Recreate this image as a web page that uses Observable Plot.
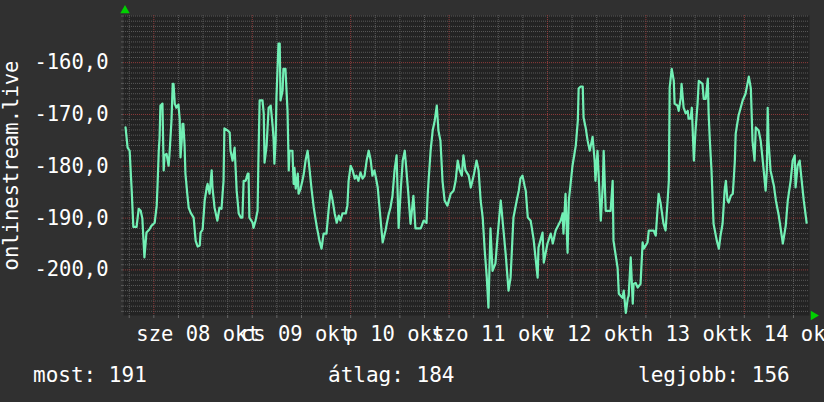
<!DOCTYPE html>
<html><head><meta charset="utf-8">
<script src="https://cdn.jsdelivr.net/npm/d3@7"></script>
<script src="https://cdn.jsdelivr.net/npm/@observablehq/plot@0.6"></script>
<style>
html,body{margin:0;padding:0;background:#303030;width:824px;height:402px;overflow:hidden;}
#chart{position:absolute;left:0;top:0;}
.leg{position:absolute;top:365px;font-family:"DejaVu Sans Mono",monospace;font-size:21px;line-height:21px;color:#fff;white-space:pre;}
</style></head><body>
<div id="chart"></div>
<div id="legend"></div>
<script>
// hours relative to 2014-10-08 00:00
const hours = [-6.9,-6.4,-5.9,-5.4,-5.0,-4.2,-3.7,-3.2,-2.8,-2.3,-1.8,-1.1,-0.6,0.2,0.7,0.9,1.2,1.4,1.6,2.1,2.4,2.6,3.1,3.6,3.8,4.3,4.6,4.8,5.1,5.5,6.0,6.3,6.5,6.8,7.0,7.2,7.5,7.7,8.2,8.5,9.0,9.7,10.2,10.7,11.2,11.4,11.9,12.4,12.9,13.1,13.6,14.1,14.3,14.8,15.5,16.0,16.5,17.0,17.2,18.0,18.5,18.7,19.2,19.7,20.2,20.7,21.2,21.6,21.9,22.4,22.9,23.1,23.3,24.1,24.3,24.8,25.3,25.5,25.8,26.5,26.8,27.0,27.5,28.0,28.5,29.0,29.2,29.4,29.7,29.9,30.4,30.7,30.9,31.4,31.6,32.1,32.6,32.9,33.1,33.8,34.1,34.3,34.6,35.1,35.3,35.8,36.5,37.0,37.5,38.0,38.5,39.0,39.7,40.4,40.9,41.4,42.1,42.6,43.1,43.6,44.1,44.6,45.1,45.5,46.0,46.8,47.2,47.5,48.0,48.5,49.0,49.4,49.9,50.4,50.9,51.4,51.9,52.4,52.9,53.3,53.8,54.3,54.6,55.1,55.8,56.5,57.2,57.7,58.2,58.7,59.2,59.7,60.2,60.7,61.2,61.6,62.1,62.6,63.3,63.8,65.1,65.8,66.5,66.8,67.0,67.5,68.0,68.5,69.0,69.4,69.9,70.4,70.9,71.6,72.4,73.1,73.6,74.1,74.6,75.1,75.5,76.0,76.8,77.3,78.0,78.7,79.2,79.7,80.2,80.7,81.2,81.6,82.1,82.6,83.3,83.8,84.6,85.1,85.8,86.5,87.0,87.7,88.5,89.0,89.4,89.9,90.4,90.7,91.2,91.9,92.6,93.6,93.8,94.8,95.1,96.0,96.8,97.3,98.0,99.2,99.7,99.9,100.4,100.9,101.2,101.6,102.1,102.9,103.4,103.6,104.1,104.6,104.8,105.3,105.8,106.3,106.8,107.0,107.5,107.7,108.2,109.0,109.5,109.7,110.2,111.4,111.9,112.1,113.1,113.4,114.3,114.6,115.1,115.6,115.8,116.3,116.8,117.0,117.5,118.0,118.7,119.2,119.5,120.4,120.7,121.9,122.4,123.1,123.6,124.3,124.8,125.3,125.6,125.8,126.3,126.8,127.0,127.7,128.0,128.5,128.7,129.2,129.7,130.2,130.4,130.9,131.2,131.7,132.1,132.6,132.9,133.8,134.1,134.6,135.1,135.3,135.6,136.0,136.5,137.3,137.8,138.2,138.7,139.2,139.5,139.9,140.2,140.7,141.2,141.4,141.7,141.9,142.6,143.6,144.3,145.1,145.6,146.0,146.5,146.8,147.5,148.0,148.5,149.2,149.5,149.7,149.9,150.4,151.2,151.7,152.4,153.4,154.1,154.6,155.3,155.8,156.3,156.5,157.0,157.5,158.0,158.5,159.2];
const values = [-172.5,-176.4,-177.0,-184.7,-191.7,-191.7,-188.2,-188.6,-190.1,-197.6,-192.8,-192.2,-191.5,-190.9,-187.6,-183.7,-177.0,-174.5,-168.3,-167.9,-180.8,-177.9,-177.6,-179.9,-177.9,-171.2,-164.1,-164.1,-167.9,-168.7,-168.1,-170.8,-178.3,-175.1,-171.8,-171.8,-176.0,-181.4,-185.7,-188.0,-189.0,-189.9,-194.4,-195.5,-195.3,-192.8,-192.2,-186.6,-184.1,-183.4,-185.3,-180.8,-184.1,-188.0,-190.5,-188.0,-188.2,-182.8,-172.7,-173.1,-173.5,-177.0,-178.9,-176.4,-184.7,-189.1,-189.9,-189.9,-182.8,-182.8,-181.4,-181.4,-189.9,-190.9,-191.9,-190.5,-188.6,-178.9,-167.3,-167.3,-169.8,-179.3,-176.0,-168.7,-168.3,-172.5,-174.7,-179.5,-175.1,-166.8,-156.3,-156.3,-167.3,-165.4,-161.2,-161.2,-169.3,-180.8,-177.0,-177.0,-183.4,-180.3,-184.3,-181.4,-185.3,-184.3,-181.8,-178.9,-177.0,-180.8,-184.7,-188.0,-191.5,-194.4,-195.9,-193.0,-193.0,-188.6,-184.7,-186.6,-189.1,-190.9,-189.5,-190.5,-189.1,-189.1,-187.6,-182.8,-179.9,-180.8,-182.4,-181.8,-182.8,-181.2,-182.4,-181.8,-178.9,-177.0,-178.9,-181.8,-180.8,-182.8,-184.1,-188.6,-194.7,-192.4,-189.5,-188.0,-185.7,-180.8,-177.9,-191.9,-184.7,-178.9,-177.0,-180.8,-185.7,-191.1,-185.7,-192.0,-192.0,-190.5,-190.9,-185.3,-182.8,-177.0,-173.1,-171.2,-168.3,-173.1,-175.1,-182.8,-186.6,-187.6,-185.3,-184.7,-182.8,-178.9,-180.8,-181.8,-177.9,-180.8,-181.8,-184.1,-181.8,-178.9,-180.8,-186.6,-189.9,-196.3,-201.5,-207.3,-192.0,-200.2,-198.8,-193.8,-186.6,-190.9,-196.9,-204.0,-201.5,-189.9,-186.6,-184.7,-182.4,-181.8,-183.7,-184.7,-189.9,-190.5,-194.0,-201.5,-195.7,-192.8,-198.6,-194.9,-193.0,-194.9,-192.4,-190.5,-189.1,-193.0,-185.3,-196.7,-186.6,-183.7,-179.9,-176.0,-171.2,-165.0,-164.6,-164.6,-170.6,-172.5,-175.1,-177.0,-175.1,-174.3,-178.9,-182.8,-177.0,-190.5,-183.4,-177.0,-188.6,-188.6,-182.8,-194.4,-199.6,-204.6,-205.4,-204.0,-208.3,-205.4,-205.0,-197.6,-206.5,-202.7,-202.5,-203.4,-202.7,-194.7,-195.9,-194.7,-192.4,-192.4,-193.4,-185.3,-187.2,-191.1,-192.4,-186.6,-182.8,-164.8,-161.2,-163.5,-167.9,-168.3,-169.3,-166.8,-164.1,-168.7,-169.8,-169.3,-170.8,-170.8,-168.7,-178.9,-173.1,-167.9,-163.5,-164.1,-167.0,-167.0,-163.1,-169.8,-175.1,-180.8,-191.1,-194.4,-195.9,-193.4,-191.1,-184.7,-182.8,-186.6,-187.0,-185.7,-185.3,-182.8,-178.9,-173.7,-170.2,-167.3,-166.0,-162.7,-165.0,-175.1,-178.9,-172.5,-173.1,-175.1,-178.9,-184.7,-180.8,-168.7,-175.1,-180.8,-183.7,-186.6,-189.5,-194.9,-191.5,-186.6,-182.8,-178.9,-177.9,-184.1,-179.9,-178.9,-182.8,-186.6,-190.9];
const dayLabels = ["sze 08 okt","cs 09 okt","p 10 okt","szo 11 okt","v 12 okt","h 13 okt","k 14 okt"];
const yTicks = [-200, -190, -180, -170, -160];
const yLabel = "onlinestream.live";
const legendLabels = ["most", "átlag", "legjobb"];
const legendValues = [191, 184, 156];

const base = new Date(2014, 9, 8);
const t = h => new Date(base.getTime() + h * 3600e3);
const data = hours.map((h, i) => ({time: t(h), value: values[i]}));
const xDomain = [t(-7.4), t(159.9)];
const yDomain = [-208.8, -150.9];
const minorX = d3.range(-6, 160, 6).filter(h => h % 24 !== 0).map(t);
const majorX = d3.range(0, 160, 24).map(t);
const labelX = d3.range(12, 170, 24).map(t);
const labelMap = new Map(labelX.map((d, i) => [+d, dayLabels[i]]));
const minorY = d3.range(-208, -150, 1).filter(v => v % 10 !== 0);
const allYTickMarks = d3.range(-208, -150, 1);
const allXTickMarks = d3.range(-6, 160, 6).map(t);

const chart = Plot.plot({
  width: 824, height: 350,
  marginLeft: 123, marginRight: 15, marginTop: 15, marginBottom: 35,
  style: {background: "#303030", color: "#ffffff", fontFamily: "'DejaVu Sans Mono', monospace", fontSize: "20.5px", overflow: "visible"},
  x: {type: "time", domain: xDomain},
  y: {domain: yDomain},
  marks: [
    Plot.frame({fill: "#232323", stroke: "none"}),
    Plot.ruleY(minorY, {stroke: "#5a5a5a", strokeDasharray: "1,1"}),
    Plot.ruleX(minorX, {stroke: "#5a5a5a", strokeDasharray: "1,1"}),
    Plot.ruleY(yTicks, {stroke: "#8e3b3b", strokeDasharray: "1,1"}),
    Plot.ruleX(majorX, {stroke: "#8e3b3b", strokeDasharray: "1,1"}),
    Plot.line(data, {x: "time", y: "value", stroke: "#72f0b5", strokeWidth: 2.2, clip: true}),
    Plot.axisY(allYTickMarks, {tickSize: 2, tickFormat: () => "", stroke: "#5a5a5a", label: null}),
    Plot.axisX(allXTickMarks, {tickSize: 3, tickFormat: () => "", stroke: "#666", label: null}),
    Plot.axisY(yTicks, {tickSize: 0, tickPadding: 15, tickFormat: d => d.toFixed(1).replace(".", ","), fill: "#fff",
      label: yLabel, labelAnchor: "center", labelOffset: 120, labelArrow: "none"}),
    Plot.axisX(labelX, {tickSize: 0, tickPadding: 11, dx: -5, tickFormat: d => labelMap.get(+d), fill: "#fff", label: null}),
    Plot.dot([0], {frameAnchor: "top-left", symbol: "triangle", r: 3.5, fill: "#00d000", stroke: "none", dx: 1.5, dy: -5}),
    Plot.dot([0], {frameAnchor: "bottom-right", symbol: "triangle", r: 3.5, fill: "#00d000", stroke: "none", dx: 4, rotate: 90})
  ]
});
document.getElementById("chart").appendChild(chart);

const legendX = [33, 328, 638];
const leg = document.getElementById("legend");
legendLabels.forEach((l, i) => {
  const d = document.createElement("div");
  d.className = "leg";
  d.style.left = legendX[i] + "px";
  d.textContent = l + ": " + legendValues[i];
  leg.appendChild(d);
});
</script>
</body></html>
